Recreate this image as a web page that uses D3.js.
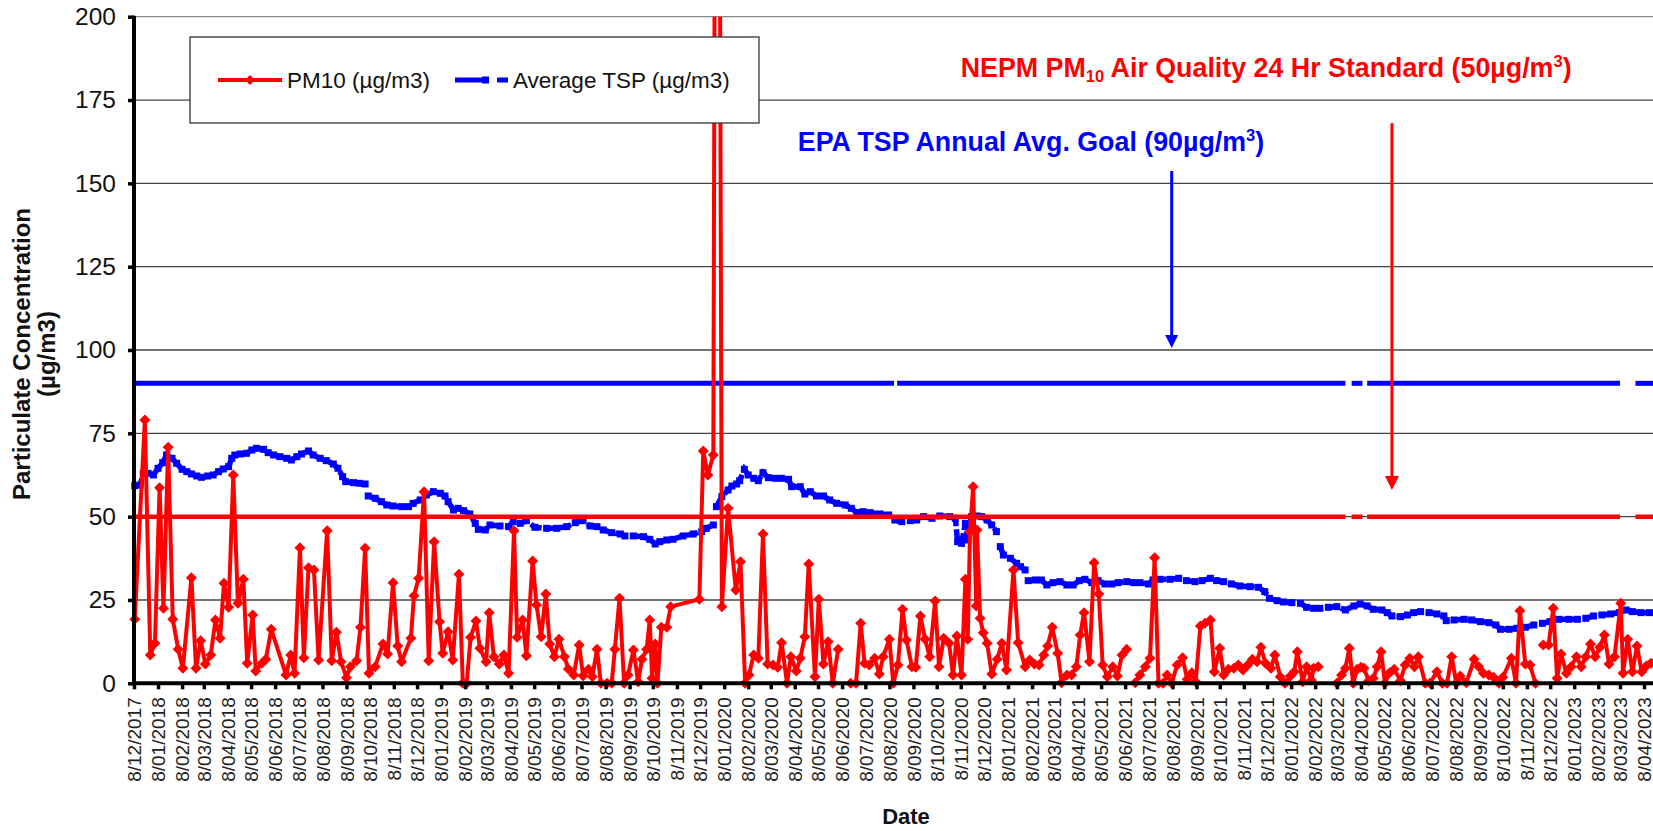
<!DOCTYPE html>
<html>
<head>
<meta charset="utf-8">
<script src="https://cdn.jsdelivr.net/npm/d3@7"></script>
<style>
body { margin: 0; background: #fff; }
svg { display: block; font-family: Arial, "Liberation Sans", sans-serif; }
</style>
</head>
<body>
<svg id="chart" width="1653" height="831"></svg>
<script>
// sampling days are counted from the first sample, 8/12/2017
const startDate = new Date(2017, 11, 8)
const lastTick = new Date(2023, 3, 8)

// [day, PM10 ug/m3], null = no sample (line breaks)
const pm10 = [[1,19.2],[14,79],[21,8.5],[27,12],[33,58.7],[38,22.5],[44,70.8],[50,19.2],[57,10.2],[63,4.5],[74,31.7],[80,4.5],[86,12.8],[92,5.8],[99,8.5],[105,19],[111,13.5],[116,30],[122,22.8],[128,62.5],[134,24],[141,31.2],[146,6],[153,20.5],[157,3.7],[165,6],[170,7.2],[177,16.2],[196,2.5],[202,8.5],[207,3],[214,40.7],[219,7.7],[225,34.7],[232,34],[238,7],[249,45.8],[255,6.8],[261,15.3],[267,6.5],[274,1.7],[279,5],[287,6.8],[292,16.8],[298,40.5],[303,3],[311,5],[321,11.8],[327,8.8],[334,30.2],[340,11.2],[345,6.5],[357,13.5],[361,26.3],[367,31.5],[374,57.5],[380,6.8],[387,42.5],[394,18.5],[398,9],[405,15.5],[411,7],[419,32.7],[424,0],[429,0],[434,13.8],[441,18.7],[446,10.5],[454,6.5],[458,21.2],[464,8],[471,5.8],[477,8.5],[483,3],[490,45.8],[494,13.8],[501,19],[506,8.3],[514,36.7],[519,23.5],[525,14],[531,26.8],[536,11.8],[542,8],[548,13.2],[555,8],[560,4.3],[567,2.5],[574,11.5],[579,2.3],[586,4.2],[591,2],[597,10.2],[602,0],[610,0],[616,0],[620,10.2],[626,25.5],[632,0],[637,2.5],[644,10],[650,0.5],[655,7.2],[661,10.2],[665,19],[668,1.5],[672,11.8],[675,0],[680,16.8],[687,16.8],[692,23],[729,25.2],[734,69.7],[740,62.5],[747,68.5],[752,500],[758,23],[766,52.5],[776,28],[782,36.5],[788,0],[793,2.5],[799,8.5],[805,7.5],[811,44.8],[817,5.8],[824,5.5],[830,4.8],[835,12.2],[842,0],[847,8],[854,3.7],[859,7.5],[865,14],[870,35.8],[878,2],[883,25.2],[889,5.8],[895,12.5],[901,0],[908,10.2],[915,null],[924,0],[931,0],[937,18],[942,6],[948,5.5],[955,7.5],[961,2.8],[966,8],[974,13.2],[979,0],[985,5.5],[991,22.2],[996,13],[1003,5],[1008,4.8],[1014,20.2],[1020,13.2],[1026,8],[1033,24.7],[1038,5],[1044,13.5],[1051,12],[1056,2.5],[1061,14.2],[1067,2.5],[1072,31.2],[1075,13.2],[1078,45.5],[1082,59],[1086,23.2],[1087,46],[1091,19.5],[1095,15.2],[1100,12],[1106,2.8],[1113,7.2],[1119,12],[1125,4],[1134,34],[1140,12.2],[1149,5],[1155,7],[1161,5.8],[1167,5.5],[1173,8.5],[1178,11.2],[1184,16.8],[1191,9],[1196,0.2],[1203,2.5],[1209,2.5],[1215,5],[1220,14.5],[1225,21.2],[1232,6.5],[1238,36.2],[1244,26.8],[1249,5.5],[1255,2],[1262,5],[1268,2.2],[1274,8.5],[1280,10.2],[1285,null],[1291,0.2],[1297,2.5],[1304,5],[1310,7.5],[1316,37.7],[1321,0],[1327,0],[1332,2.5],[1338,0],[1345,5.5],[1352,7.7],[1358,1.2],[1364,3.2],[1369,0.5],[1375,17.2],[1381,18],[1388,19],[1393,3.5],[1400,10.5],[1405,2.5],[1411,4.2],[1418,4.5],[1424,5.5],[1430,4],[1436,5.5],[1442,7.2],[1448,6.5],[1453,10.8],[1459,6],[1466,4.5],[1471,8.5],[1478,2],[1484,0],[1491,2.2],[1496,3.5],[1500,9.5],[1507,0.5],[1512,5],[1518,1],[1521,4.5],[1527,5],[1540,null],[1551,0],[1557,2.5],[1562,4.5],[1567,10.5],[1572,0],[1577,4.2],[1582,4.8],[1586,4.5],[1592,0.8],[1598,1.5],[1603,5],[1608,9.5],[1613,0],[1619,3.2],[1625,4.2],[1633,0.8],[1639,5.5],[1645,7.5],[1651,5],[1656,8],[1665,0],[1671,0],[1680,3.5],[1687,0],[1693,0],[1699,8],[1705,0],[1710,2.2],[1718,0.2],[1728,7.2],[1734,5],[1740,3],[1747,2.5],[1753,1.8],[1760,0],[1765,1.8],[1776,7.5],[1782,0],[1787,21.8],[1794,5.8],[1800,5.5],[1807,0],[1812,null],[1817,11.5],[1824,11.5],[1830,22.5],[1835,1.5],[1840,8.8],[1847,3],[1853,5],[1860,8],[1866,5],[1872,8],[1878,11.8],[1884,8],[1890,10.8],[1896,14.5],[1902,5.8],[1909,8],[1917,24],[1920,3],[1926,13.2],[1932,3.5],[1938,11.2],[1944,3.5],[1950,5.2],[1956,6],[1962,6.5]]

// [day, average TSP ug/m3]
const tsp = [[1,59.3],[8,59.5],[12,63],[18,63],[25,62.5],[31,64.5],[37,66.2],[42,68.5],[49,67.5],[55,66],[62,64.2],[68,63.5],[74,62.8],[81,62.2],[87,61.8],[95,62.2],[102,62.5],[109,63.5],[115,64.3],[122,65],[126,67.5],[130,68.5],[137,68.8],[145,69],[152,70],[158,70.5],[167,70.2],[173,69.2],[180,68.5],[188,68],[197,67.5],[203,67],[210,68],[216,68.8],[225,69.7],[231,68.5],[240,67.5],[248,66.8],[257,65.8],[263,64.5],[269,62],[273,60.5],[283,60.2],[291,60],[298,59.8],[300,null],[302,56.2],[311,55.5],[319,54.5],[326,53.5],[334,53.2],[345,53],[354,53],[360,54],[369,55],[377,56.5],[386,57.5],[395,57],[401,56.2],[405,54.5],[412,52],[418,52.5],[425,51.8],[433,50.8],[440,48],[444,46.2],[453,46],[459,47.5],[472,47.2],[483,47],[489,48.5],[498,48],[506,48.8],[517,46.8],[532,46.5],[545,46.5],[558,47],[569,48.2],[579,48.8],[588,47.2],[597,47],[605,46],[616,45.2],[627,44.8],[633,44.2],[644,44.2],[657,44],[665,43.2],[672,41.8],[678,42.5],[687,43],[695,43.2],[708,44.2],[721,44.8],[732,45.5],[738,46.5],[747,47.5],[749,null],[751,53],[758,56],[766,58],[771,59.2],[777,59.8],[781,60.8],[787,64.2],[792,62.5],[799,61.5],[805,60.8],[811,63.2],[818,61.7],[827,61.5],[835,61.5],[844,61.2],[848,59],[859,59],[865,56.8],[872,57.5],[880,56.2],[889,56.2],[897,55],[906,54],[917,53.5],[925,52.5],[932,51.2],[940,51.5],[949,51.2],[962,50.8],[973,50.5],[981,49],[990,48.5],[1001,48.8],[1009,49],[1018,50],[1029,49.5],[1039,50.2],[1052,50],[1059,49.5],[1062,42.5],[1067,42],[1072,48],[1075,43],[1080,50],[1087,50.2],[1093,50],[1100,49],[1106,47.5],[1112,45.5],[1114,null],[1117,41],[1121,38.5],[1130,37.5],[1138,36],[1143,35],[1149,34],[1151,null],[1153,30.8],[1162,31],[1170,31],[1177,29.5],[1185,30.2],[1194,30.5],[1203,29.5],[1211,29.5],[1219,30.8],[1226,31.2],[1235,30.2],[1243,30.8],[1252,29.8],[1261,29.8],[1269,30.2],[1280,30.5],[1289,30.2],[1297,30.2],[1308,29.8],[1314,31],[1323,31.2],[1336,31.2],[1347,31.5],[1357,30.8],[1368,30.5],[1377,30.8],[1388,31.5],[1396,30.8],[1405,30.5],[1415,29.8],[1426,29.2],[1439,29],[1450,28.8],[1458,27.5],[1464,25.5],[1474,24.8],[1482,24.4],[1493,24.2],[1504,24],[1512,22.8],[1521,22.5],[1529,22.5],[1540,22.8],[1551,23],[1562,22],[1573,23.2],[1581,23.8],[1590,23.2],[1598,22.2],[1609,22],[1616,21.2],[1622,20.2],[1633,20],[1642,20.5],[1650,21.2],[1659,21.5],[1670,21.2],[1680,20.8],[1689,20.2],[1692,18.8],[1702,19],[1715,19.2],[1725,19],[1736,18.5],[1747,18.2],[1756,17.5],[1762,16.2],[1773,16.2],[1783,16.5],[1794,16.8],[1805,17.5],[1816,18],[1826,18.5],[1837,19.2],[1850,19.2],[1861,19.2],[1872,19.5],[1882,20.2],[1893,20.5],[1904,20.8],[1915,21.2],[1924,22],[1932,21.5],[1943,21.2],[1954,21.2],[1964,21.2]]

const pm10Standard = 50
const tspGoal = 90
// days where the standard / goal series have no value
const pm10StdGaps = [[1562, 1570], [1584, 1590], [1916, 1936]]
const tspGoalGaps = [[980, 984], [1562, 1570], [1584, 1590], [1916, 1936]]
const lastDay = 1975

const yTicks = [0, 25, 50, 75, 100, 125, 150, 175, 200]

function main() {
    let svg = d3.select('#chart'),
        W = +svg.attr('width'),
        left = 134, top = 16.7, bottom = 683.3

    let day = d => d3.timeDay.offset(startDate, d)
    let x = d3.scaleTime().domain([startDate, lastTick]).range([left, 1644]),
        y = d3.scaleLinear().domain([0, 200]).range([bottom, top])

    svg.append('defs').append('clipPath').attr('id', 'plot')
        .append('rect').attr('x', left - 10).attr('y', top).attr('width', W).attr('height', 700)

    // gridlines
    svg.append('g').selectAll('line')
        .data(yTicks.slice(1))
        .enter()
        .append('line')
        .attr('x1', left).attr('x2', W)
        .attr('y1', d => y(d)).attr('y2', d => y(d))
        .attr('stroke', d => d === 200 ? '#888' : '#444')
        .attr('stroke-width', 1.3)

    // standard lines split around their gaps
    function segments(gaps) {
        let segs = [], s = 0
        gaps.forEach(g => { segs.push([s, g[0]]); s = g[1] })
        segs.push([s, lastDay])
        return segs
    }
    let g = svg.append('g').attr('clip-path', 'url(#plot)')
    g.selectAll('.goal')
        .data(segments(tspGoalGaps))
        .enter()
        .append('line')
        .attr('x1', d => x(day(d[0]))).attr('x2', d => x(day(d[1])))
        .attr('y1', y(tspGoal)).attr('y2', y(tspGoal))
        .attr('stroke', '#0000FF').attr('stroke-width', 5)

    // average TSP
    let tspLine = d3.line()
        .defined(d => d[1] !== null)
        .x(d => x(day(d[0])))
        .y(d => y(d[1]))
    g.append('path')
        .datum(tsp)
        .attr('d', tspLine)
        .attr('fill', 'none')
        .attr('stroke', '#0000FF')
        .attr('stroke-width', 5.5)
        .attr('stroke-dasharray', '12 3')
    g.selectAll('.tspm')
        .data(tsp.filter(d => d[1] !== null))
        .enter()
        .append('rect')
        .attr('x', d => x(day(d[0])) - 3.5)
        .attr('y', d => y(d[1]) - 3.5)
        .attr('width', 7).attr('height', 7)
        .attr('fill', '#0000FF')

    g.selectAll('.std')
        .data(segments(pm10StdGaps))
        .enter()
        .append('line')
        .attr('x1', d => x(day(d[0]))).attr('x2', d => x(day(d[1])))
        .attr('y1', y(pm10Standard)).attr('y2', y(pm10Standard))
        .attr('stroke', '#FF0000').attr('stroke-width', 4.5)

    // PM10
    let pmLine = d3.line()
        .defined(d => d[1] !== null)
        .x(d => x(day(d[0])))
        .y(d => y(d[1]))
    g.append('path')
        .datum(pm10)
        .attr('d', pmLine)
        .attr('fill', 'none')
        .attr('stroke', '#FF0000')
        .attr('stroke-width', 4)
        .attr('stroke-linejoin', 'round')
    g.selectAll('.pmm')
        .data(pm10.filter(d => d[1] !== null))
        .enter()
        .append('path')
        .attr('transform', d => 'translate(' + x(day(d[0])) + ',' + y(d[1]) + ')')
        .attr('d', 'M0,-5.5L5.5,0L0,5.5L-5.5,0Z')
        .attr('fill', '#FF0000')

    // axes
    let tickDates = d3.timeMonth.range(new Date(2017, 11, 1), new Date(2023, 4, 1)).map(m => d3.timeDay.offset(m, 7))
    let xAxis = svg.append('g')
        .attr('transform', 'translate(0,' + bottom + ')')
        .call(d3.axisBottom(x).tickValues(tickDates).tickSize(6).tickSizeOuter(0)
            .tickFormat(d3.timeFormat('%-d/%m/%Y')))
    xAxis.select('.domain').remove()
    xAxis.selectAll('line').attr('stroke', '#000').attr('stroke-width', 3.5)
    xAxis.selectAll('text')
        .attr('font-size', 19)
        .attr('fill', '#222')
        .attr('text-anchor', 'end')
        .attr('transform', 'rotate(-90)')
        .attr('x', -14).attr('y', 0).attr('dy', '0.35em')

    let yAxis = svg.append('g')
        .attr('transform', 'translate(' + left + ',0)')
        .call(d3.axisLeft(y).tickValues(yTicks).tickSize(6).tickSizeOuter(0).tickPadding(12))
    yAxis.select('.domain').remove()
    yAxis.selectAll('line').attr('stroke', '#000').attr('stroke-width', 3.5)
    yAxis.selectAll('text').attr('font-size', 24.5).attr('fill', '#111')

    svg.append('line')
        .attr('x1', left).attr('x2', left).attr('y1', top - 1).attr('y2', bottom + 2)
        .attr('stroke', '#000').attr('stroke-width', 4)
    svg.append('line')
        .attr('x1', left - 2).attr('x2', W).attr('y1', bottom).attr('y2', bottom)
        .attr('stroke', '#000').attr('stroke-width', 4)

    // axis titles
    let yt = svg.append('text')
        .attr('transform', 'translate(30,354) rotate(-90)')
        .attr('text-anchor', 'middle')
        .attr('font-size', 24).attr('font-weight', 'bold').attr('fill', '#111')
    yt.append('tspan').attr('x', 0).attr('y', 0).text('Particulate Concentration')
    yt.append('tspan').attr('x', 0).attr('y', 25).text('(µg/m3)')

    svg.append('text')
        .attr('x', 906).attr('y', 824)
        .attr('text-anchor', 'middle')
        .attr('font-size', 22).attr('font-weight', 'bold').attr('fill', '#111')
        .text('Date')

    // legend
    let lg = svg.append('g')
    lg.append('rect')
        .attr('x', 190).attr('y', 37).attr('width', 569).attr('height', 86)
        .attr('fill', '#fff').attr('stroke', '#333').attr('stroke-width', 1.3)
    lg.append('line').attr('x1', 218).attr('x2', 282).attr('y1', 80).attr('y2', 80)
        .attr('stroke', '#FF0000').attr('stroke-width', 4)
    lg.append('path').attr('transform', 'translate(250,80)')
        .attr('d', 'M0,-5L5,0L0,5L-5,0Z').attr('fill', '#FF0000')
    lg.append('text').attr('x', 287).attr('y', 88).attr('font-size', 22.5).attr('fill', '#111')
        .text('PM10 (µg/m3)')
    lg.append('line').attr('x1', 455).attr('x2', 508).attr('y1', 80).attr('y2', 80)
        .attr('stroke', '#0000FF').attr('stroke-width', 5).attr('stroke-dasharray', '32 10 11')
    lg.append('rect').attr('x', 482).attr('y', 76.5).attr('width', 7).attr('height', 7).attr('fill', '#0000FF')
    lg.append('text').attr('x', 513).attr('y', 88).attr('font-size', 22.5).attr('fill', '#111')
        .text('Average TSP (µg/m3)')

    // annotations
    let nepm = svg.append('text')
        .attr('x', x(day(1066))).attr('y', y(182))
        .attr('font-size', 26.8).attr('font-weight', 'bold').attr('fill', '#FF0000')
    nepm.append('tspan').text('NEPM PM')
    nepm.append('tspan').attr('font-size', 16.5).attr('dy', 5).text('10')
    nepm.append('tspan').attr('dy', -5).text(' Air Quality 24 Hr Standard (50µg/m')
    nepm.append('tspan').attr('font-size', 16.5).attr('dy', -10).text('3')
    nepm.append('tspan').attr('dy', 10).text(')')

    let epa = svg.append('text')
        .attr('x', x(day(856))).attr('y', y(159.7))
        .attr('font-size', 26.8).attr('font-weight', 'bold').attr('fill', '#0000FF')
    epa.append('tspan').text('EPA TSP Annual Avg. Goal (90µg/m')
    epa.append('tspan').attr('font-size', 16.5).attr('dy', -10).text('3')
    epa.append('tspan').attr('dy', 10).text(')')

    function arrow(d, v0, v1, color, w, head) {
        let ax = x(day(d))
        svg.append('line')
            .attr('x1', ax).attr('x2', ax).attr('y1', y(v0)).attr('y2', y(v1) - head)
            .attr('stroke', color).attr('stroke-width', w)
        svg.append('path')
            .attr('d', 'M' + (ax - head / 2) + ',' + (y(v1) - head) + 'L' + (ax + head / 2) + ',' + (y(v1) - head) +
                'L' + ax + ',' + y(v1) + 'Z')
            .attr('fill', color)
    }
    arrow(1338, 153.7, 100.6, '#0000FF', 3, 13)
    arrow(1622, 168, 58, '#FF0000', 3, 14)
}

main()
</script>
</body>
</html>
